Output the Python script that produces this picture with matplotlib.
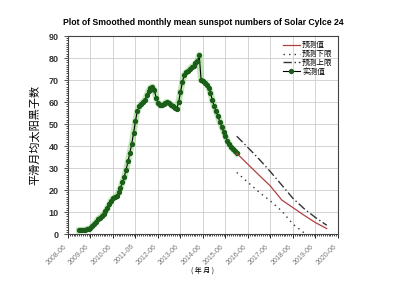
import matplotlib.pyplot as plt
from matplotlib.ticker import MultipleLocator

plt.rcParams['font.family'] = ['Liberation Sans', 'Noto Sans CJK SC', 'DejaVu Sans']

# months counted from 2008-06
tick_labels = ['2008-06', '2009-06', '2010-06', '2011-06', '2012-06', '2013-06', '2014-06',
               '2015-06', '2016-06', '2017-06', '2018-06', '2019-06', '2020-06']

# observed smoothed values, monthly 2008-12 .. 2015-12
obs_start = 6
observed = [1.7,
            1.8, 1.9, 2.0, 2.2, 2.4, 2.8, 3.6, 4.6, 5.6, 6.8, 7.5, 8.3,
            9.2, 10.3, 11.8, 13.5, 15.2, 16.3, 16.8, 17.3, 19.0, 21.0, 23.5, 26.0,
            29.3, 33.0, 37.0, 41.0, 46.0, 51.5, 56.0, 58.0, 59.0, 60.0, 61.0, 63.0,
            65.0, 66.5, 67.0, 65.5, 62.0, 59.5, 58.6, 58.5, 59.0, 59.8, 60.0, 59.5,
            58.8, 58.0, 57.5, 57.0, 60.0, 64.5, 69.0, 72.5, 73.5, 74.2, 75.2, 76.0,
            76.5, 77.6, 78.5, 81.4, 70.0, 69.5, 68.8, 67.8, 66.5, 64.0, 61.0, 58.0,
            55.8, 53.5, 51.0, 48.8, 46.5, 44.5, 42.5, 40.8, 39.5, 38.5, 37.6, 36.7]

pred_months = [90, 96, 102, 108, 114, 120, 126, 132, 138]
pred_mid = [36.7, 31.7, 26.7, 21.8, 15.5, 12.0, 8.5, 5.2, 2.5]
pred_up = [44.5, 39.3, 34.0, 28.3, 22.3, 16.2, 11.5, 7.5, 4.0]
low_months = [90, 96, 102, 108, 114, 120, 126]
pred_low = [28.0, 23.5, 19.0, 15.0, 10.5, 4.5, 0.5]

obs_months = list(range(obs_start, obs_start + len(observed)))

fig = plt.figure(figsize=(3.93, 2.82), dpi=100)
ax = fig.add_axes([0.173, 0.170, 0.687, 0.702])

ax.plot(obs_months, observed, color='#7fd06a', lw=4.5, alpha=0.5, zorder=2)
ax.plot(obs_months, observed, color='black', lw=0.8, marker='o', ms=2.8,
        mfc='#1a5e1a', mec='#1a5e1a', label='实测值', zorder=3)
ax.plot(pred_months, pred_mid, color='#b04040', lw=0.9, label='预测值', zorder=3)
ax.plot(low_months, pred_low, color='#333333', lw=1.0, ls=(0, (1, 3)), label='预测下限', zorder=3)
ax.plot(pred_months, pred_up, color='#333333', lw=1.0, ls=(0, (6, 2, 1, 2)), label='预测上限', zorder=3)

ax.set_xlim(0, 144)
ax.set_ylim(0, 90)
ax.set_xticks(range(0, 145, 12))
ax.set_xticklabels(tick_labels, rotation=45, ha='right', fontsize=5, color='#777777')
ax.xaxis.set_minor_locator(MultipleLocator(1))
ax.yaxis.set_major_locator(MultipleLocator(10))
ax.yaxis.set_minor_locator(MultipleLocator(1))
ax.tick_params(axis='y', labelsize=6.5, colors='#333333', length=3, width=0.6)
ax.tick_params(axis='x', length=3, width=0.6)
ax.tick_params(which='minor', length=1.5, width=0.5)
for lbl in ax.get_yticklabels():
    lbl.set_fontweight('bold')
ax.grid(True, which='major', color='#cccccc', lw=0.6)
for s in ax.spines.values():
    s.set_linewidth(0.8)
    s.set_color('#444444')

ax.set_title('Plot of Smoothed monthly mean sunspot numbers of Solar Cylce 24',
             fontsize=6.2, fontweight='bold', pad=8)
ax.set_ylabel('平滑月均太阳黑子数', fontsize=8, family=['Noto Sans CJK SC'], labelpad=6)
ax.set_xlabel('( 年 月 )', fontsize=5, family=['Noto Sans CJK SC'], labelpad=0)

handles, labels = ax.get_legend_handles_labels()
order = [1, 2, 3, 0]
ax.legend([handles[i] for i in order], [labels[i] for i in order], loc='upper right',
          frameon=False, prop={'family': 'Noto Sans CJK SC', 'size': 5.5},
          handlelength=2.2, labelspacing=0.1, borderaxespad=0.3, handletextpad=0.3)

fig.savefig('out.png', dpi=100)
